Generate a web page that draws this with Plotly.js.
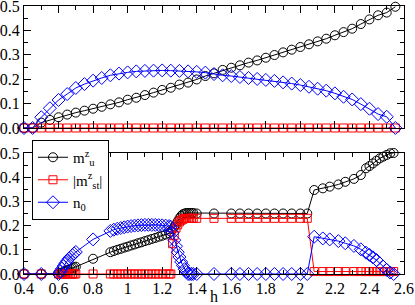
<!DOCTYPE html>
<html>
<head>
<meta charset="utf-8">
<script src="https://cdn.plot.ly/plotly-3.0.1.min.js"></script>
<style>html,body{margin:0;padding:0;background:#fff;}#chart{width:415px;height:305px;}</style>
</head>
<body>
<div id="chart"></div>
<script>
// ---- top panel data ----
const hTop = [0.4,0.45,0.5,0.55,0.6,0.65,0.7,0.75,0.8,0.85,0.9,0.95,1.0,1.05,1.1,1.15,1.2,1.25,1.3,1.35,1.4,1.45,
              1.5,1.55,1.6,1.65,1.7,1.75,1.8,1.85,1.9,1.95,2.0,2.05,2.1,2.15,2.2,2.25,2.3,2.35,2.4,2.45,2.5,2.55];
const muTop = [0,0,0.022,0.033,0.044,0.055,0.063,0.071,0.079,0.087,0.097,0.105,0.116,0.124,0.135,0.145,0.156,0.165,0.178,0.186,0.199,0.213,
               0.224,0.238,0.247,0.257,0.268,0.277,0.288,0.299,0.310,0.321,0.332,0.343,0.355,0.366,0.380,0.393,0.407,0.426,0.445,0.462,0.473,0.497];
const mstTop = [0,0,0,0,0,0,0,0,0,0,0,0,0,0,0,0,0,0,0,0,0,0,
                0,0,0,0,0,0,0,0,0,0,0,0,0,0,0,0,0,0,0,0,0,0];
const n0Top = [0,0,0.044,0.081,0.115,0.139,0.164,0.18,0.194,0.205,0.216,0.223,0.228,0.232,0.234,0.235,0.236,0.235,0.234,0.232,0.23,0.227,
               0.221,0.216,0.213,0.209,0.205,0.201,0.197,0.193,0.187,0.182,0.176,0.169,0.161,0.153,0.142,0.128,0.117,0.098,0.079,0.057,0.046,0];

// ---- bottom panel data ----
const hBot = [0.4,0.5,
  0.6,0.61,0.62,0.63,0.64,0.65,0.66,0.67,0.68,0.69,0.7,
  0.8,
  0.9,0.92,0.94,0.96,0.98,1.0,1.02,1.04,1.06,1.08,1.1,1.12,1.14,1.16,1.18,1.2,1.22,1.24,
  1.25,1.26,1.27,1.28,1.29,1.3,1.31,1.32,1.33,1.34,1.35,1.36,1.37,1.38,
  1.4,1.5,
  1.6,1.65,1.7,1.75,1.8,1.85,1.9,1.95,2.0,
  2.04,
  2.08,2.13,2.17,2.22,2.26,2.31,2.35,
  2.38,2.4,2.42,2.44,2.46,2.48,2.5,2.52,2.54];
const muBot = [0,0,
  0,0.003,0.006,0.009,0.012,0.015,0.018,0.021,0.024,0.027,0.03,
  0.063,
  0.09,0.095,0.1,0.104,0.109,0.113,0.118,0.122,0.127,0.131,0.136,0.14,0.145,0.149,0.154,0.158,0.163,0.168,
  0.175,0.185,0.195,0.205,0.218,0.23,0.24,0.247,0.25,0.252,0.252,0.252,0.252,0.252,
  0.25,0.25,
  0.25,0.25,0.25,0.25,0.25,0.25,0.25,0.25,0.25,
  0.25,
  0.347,0.354,0.361,0.37,0.381,0.393,0.409,
  0.437,0.446,0.457,0.468,0.478,0.485,0.492,0.499,0.5];
const mstBot = [0,0,
  0,0,0,0,0,0,0,0,0,0,0,
  0,
  0,0,0,0,0,0,0,0,0,0,0,0,0,0,0,0,0,0,
  0,0.125,0.16,0.19,0.203,0.215,0.222,0.226,0.229,0.23,0.23,0.23,0.23,0.23,
  0.23,0.23,
  0.23,0.23,0.23,0.23,0.23,0.23,0.23,0.23,0.23,
  0.23,
  0.01,0.01,0.01,0.01,0.01,0.01,0.01,
  0.01,0.01,0.01,0.01,0.01,0.01,0.01,0.01,0.01];
const n0Bot = [0,0,
  0,0.01,0.022,0.033,0.044,0.054,0.063,0.071,0.078,0.085,0.091,
  0.143,
  0.178,0.183,0.187,0.19,0.193,0.196,0.198,0.2,0.201,0.202,0.203,0.203,0.203,0.203,0.202,0.201,0.2,0.198,
  0.195,0.17,0.14,0.115,0.09,0.07,0.05,0.035,0.02,0.008,0,0,0,0,
  0,0,
  0,0,0,0,0,0,0,0,0,
  0,
  0.154,0.147,0.143,0.136,0.127,0.116,0.102,
  0.088,0.079,0.069,0.058,0.044,0.03,0.017,0.006,0];

const names = ['m<sup>z</sup><sub>u</sub>', '|m<sup>z</sup><sub>st</sub>|', 'n<sub>0</sub>'];
const colors = ['#000000', '#ff0000', '#0000ff'];
const symbols = ['circle-open', 'square-open', 'diamond-open'];
const sizes = [9, 8, 10];

function tr(x, y, i, top) {
  return {
    x: x, y: y, type: 'scatter', mode: 'lines+markers', name: names[i],
    xaxis: top ? 'x2' : 'x', yaxis: top ? 'y2' : 'y',
    showlegend: !top, cliponaxis: false,
    line: {color: colors[i], width: 1},
    marker: {symbol: symbols[i], size: sizes[i], color: colors[i], line: {color: colors[i], width: 1}}
  };
}

const data = [
  tr(hTop, muTop, 0, true), tr(hTop, mstTop, 1, true), tr(hTop, n0Top, 2, true),
  tr(hBot, muBot, 0, false), tr(hBot, mstBot, 1, false), tr(hBot, n0Bot, 2, false)
];

const serif = 'Liberation Serif';
const common = {
  showgrid: false, zeroline: false, showline: true, linecolor: '#000', linewidth: 1,
  mirror: 'ticks', ticks: 'inside', ticklen: 7, tickcolor: '#000', tickwidth: 1,
  ticklabeloverflow: 'allow',
  tickfont: {family: serif, size: 16, color: '#000'}
};

const layout = {
  width: 415, height: 305,
  margin: {l: 24, r: 11, t: 6, b: 31},
  paper_bgcolor: '#fff', plot_bgcolor: '#fff',
  font: {family: serif, size: 16, color: '#000'},
  xaxis: Object.assign({}, common, {
    range: [0.4, 2.6], anchor: 'y', tick0: 0.4, dtick: 0.2,
    minor: {dtick: 0.1, ticks: 'inside', ticklen: 4, tickcolor: '#000'},
    title: {text: 'h', font: {family: serif, size: 16, color: '#000'}, standoff: 3}
  }),
  xaxis2: Object.assign({}, common, {
    range: [0.4, 2.6], anchor: 'y2', tick0: 0.4, dtick: 0.2, showticklabels: false,
    minor: {dtick: 0.1, ticks: 'inside', ticklen: 4, tickcolor: '#000'}
  }),
  yaxis: Object.assign({}, common, {
    domain: [0, 0.4515], range: [0, 0.5], dtick: 0.1, tickformat: '.1f',
    minor: {dtick: 0.05, ticks: 'inside', ticklen: 4, tickcolor: '#000'}
  }),
  yaxis2: Object.assign({}, common, {
    domain: [0.5448, 1], range: [0, 0.5], dtick: 0.1, tickformat: '.1f',
    minor: {dtick: 0.05, ticks: 'inside', ticklen: 4, tickcolor: '#000'}
  }),
  legend: {
    x: 0.021, y: 0.5, xanchor: 'left', yanchor: 'top',
    bgcolor: '#fff', bordercolor: '#000', borderwidth: 1,
    font: {family: serif, size: 15, color: '#000'},
    itemwidth: 30, tracegroupgap: 0
  }
};

Plotly.newPlot('chart', data, layout, {displayModeBar: false, staticPlot: true});
</script>
</body>
</html>
